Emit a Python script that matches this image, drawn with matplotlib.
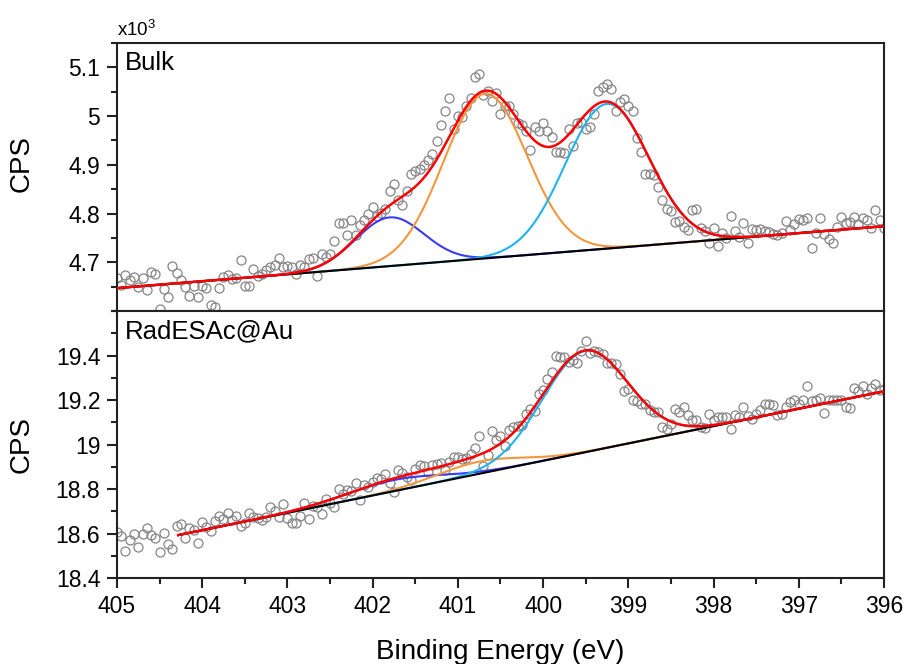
import numpy as np
import matplotlib
matplotlib.use("Agg")
import matplotlib.pyplot as plt
from matplotlib.ticker import MultipleLocator, FormatStrFormatter

plt.rcParams["font.family"] = ["Liberation Sans", "DejaVu Sans"]
plt.rcParams["mathtext.default"] = "regular"

# ---- data (CPS x10^3, sampled every 0.05 eV from 405 eV down to 396 eV) ----
bulk_cps = [
    4.667, 4.653, 4.674, 4.663, 4.669, 4.650, 4.667, 4.644, 4.680, 4.676,
    4.605, 4.646, 4.629, 4.692, 4.677, 4.663, 4.650, 4.631, 4.651, 4.629,
    4.651, 4.648, 4.612, 4.609, 4.648, 4.670, 4.673, 4.666, 4.667, 4.704,
    4.652, 4.652, 4.687, 4.672, 4.676, 4.685, 4.691, 4.694, 4.708, 4.691,
    4.692, 4.691, 4.675, 4.694, 4.691, 4.706, 4.708, 4.672, 4.718, 4.711,
    4.718, 4.744, 4.781, 4.781, 4.755, 4.787, 4.755, 4.776, 4.786, 4.800,
    4.813, 4.794, 4.801, 4.810, 4.847, 4.860, 4.827,
    4.817, 4.846, 4.882, 4.887, 4.892, 4.899, 4.909, 4.922, 4.948, 4.982,
    5.011, 5.037, 4.974, 5.001, 4.999, 5.021, 5.038, 5.081, 5.087, 5.044,
    5.052, 5.031, 5.047, 5.004, 5.021, 5.021, 5.004, 4.985, 4.982, 4.969,
    4.931, 4.978, 4.969, 4.985, 4.969, 4.957, 4.926, 4.926, 4.924, 4.974,
    4.939, 4.985, 4.988, 4.974, 4.977, 5.004, 5.051, 5.059, 5.066, 5.055,
    5.011, 5.028, 5.035, 5.021, 5.011, 4.955, 4.926, 4.882, 4.882, 4.880,
    4.854, 4.827, 4.809, 4.805, 4.783,
    4.784, 4.772, 4.767, 4.807, 4.809, 4.771, 4.764, 4.740, 4.771, 4.733,
    4.760, 4.749, 4.794, 4.764, 4.752, 4.781, 4.740, 4.769, 4.766, 4.769,
    4.764, 4.762, 4.759, 4.755, 4.760, 4.784, 4.766, 4.778, 4.788, 4.786,
    4.790, 4.730, 4.760, 4.791, 4.759, 4.747, 4.740, 4.772, 4.793, 4.781,
    4.783, 4.793, 4.778, 4.790, 4.786, 4.771, 4.808, 4.787, 4.770,
]

rad_cps = [
    18.608, 18.588, 18.523, 18.573, 18.600, 18.541, 18.600, 18.623, 18.593, 18.582,
    18.518, 18.603, 18.555, 18.529, 18.633, 18.642, 18.582, 18.627, 18.618, 18.558,
    18.653, 18.630, 18.612, 18.657, 18.678, 18.663, 18.690, 18.660, 18.678, 18.633,
    18.648, 18.690, 18.675, 18.668, 18.660, 18.675, 18.720, 18.702, 18.675, 18.732,
    18.668, 18.648, 18.648, 18.678, 18.735, 18.663, 18.723, 18.720, 18.687, 18.757,
    18.738, 18.720, 18.798, 18.777, 18.795, 18.792, 18.825, 18.750, 18.817, 18.810,
    18.832, 18.851, 18.847, 18.869, 18.825, 18.787, 18.887,
    18.872, 18.854, 18.839, 18.892, 18.907, 18.902, 18.877, 18.907, 18.914, 18.917,
    18.887, 18.922, 18.944, 18.944, 18.937, 18.941, 18.959, 18.986, 19.037, 18.904,
    18.952, 19.061, 19.019, 19.037, 18.992, 19.064, 19.079, 19.082, 19.086, 19.138,
    19.161, 19.149, 19.225, 19.243, 19.295, 19.325, 19.396, 19.393, 19.393, 19.370,
    19.381, 19.366, 19.422, 19.464, 19.410, 19.419, 19.415, 19.407, 19.366, 19.366,
    19.363, 19.318, 19.240, 19.251, 19.201, 19.195, 19.180, 19.180, 19.153, 19.146,
    19.146, 19.079, 19.071, 19.094, 19.161, 19.146,
    19.168, 19.131, 19.109, 19.112, 19.079, 19.076, 19.138, 19.112, 19.123, 19.123,
    19.123, 19.070, 19.131, 19.123, 19.168, 19.126, 19.116, 19.138, 19.153, 19.180,
    19.183, 19.176, 19.131, 19.138, 19.168, 19.191, 19.201, 19.183, 19.201, 19.265,
    19.195, 19.198, 19.210, 19.143, 19.198, 19.198, 19.198, 19.201, 19.168, 19.165,
    19.255, 19.240, 19.265, 19.228, 19.255, 19.270, 19.243, 19.250,
]

# fitted peaks: centre (eV), height above background, gaussian sigma (eV)
bulk_bkg_energy = [405.0, 396.0]
bulk_bkg = [4.647, 4.774]
bulk_centres = [401.80, 400.68, 399.25]
bulk_heights = [0.100, 0.338, 0.297]
bulk_sigmas = [0.40, 0.49, 0.49]

rad_bkg_energy = [404.28, 396.0]
rad_bkg = [18.593, 19.239]
rad_centres = [401.75, 400.75, 399.51]
rad_heights = [0.050, 0.055, 0.455]
rad_sigmas = [0.55, 0.50, 0.50]

peak_colors = ["#3a3af2", "#f4973c", "#22b2ef"]


def gauss(e, c, h, s):
    return h * np.exp(-0.5 * ((e - c) / s) ** 2)


def panneau(ax, cps, bkg_e, bkg, centres, heights, sigmas, titre):
    energy = 405 - 0.05 * np.arange(len(cps))
    ax.plot(energy, cps, "o", mfc="none", mec="#858585", mew=0.9, ms=6.5, zorder=2)

    e = np.linspace(bkg_e[0], bkg_e[1], 600)
    base = np.interp(e, bkg_e[::-1], bkg[::-1])
    total = base.copy()
    for c, h, s, col in zip(centres, heights, sigmas, peak_colors):
        comp = gauss(e, c, h, s)
        total += comp
        ax.plot(e, base + comp, color=col, lw=1.5, zorder=3)
    ax.plot(e, base, color="black", lw=1.5, zorder=4)
    ax.plot(e, total, color="#ff0000", lw=1.8, zorder=5)

    ax.text(0.010, 0.97, titre, transform=ax.transAxes, ha="left", va="top", fontsize=18.5)
    ax.set_ylabel("CPS", fontsize=20)
    for sp in ax.spines.values():
        sp.set_linewidth(1.5)
        sp.set_color("#222222")
    ax.tick_params(axis="both", which="major", direction="out", length=7, width=1.5,
                   labelsize=16.5, color="#222222", pad=5)
    ax.tick_params(axis="both", which="minor", direction="out", length=4, width=1.5,
                   color="#222222")
    ax.yaxis.set_major_formatter(FormatStrFormatter("%g"))


fig = plt.figure(figsize=(9.06, 6.64), dpi=100)
ax1 = fig.add_axes([0.1291, 0.5316, 0.8466, 0.4036])
ax2 = fig.add_axes([0.1291, 0.1295, 0.8466, 0.4021], sharex=ax1)

panneau(ax1, bulk_cps, bulk_bkg_energy, bulk_bkg, bulk_centres, bulk_heights, bulk_sigmas, "Bulk")
panneau(ax2, rad_cps, rad_bkg_energy, rad_bkg, rad_centres, rad_heights, rad_sigmas, "RadESAc@Au")

ax1.set_xlim(405, 396)
ax1.xaxis.set_major_locator(MultipleLocator(1))
ax1.xaxis.set_minor_locator(MultipleLocator(0.5))
ax1.xaxis.set_major_formatter(FormatStrFormatter("%d"))

ax1.set_ylim(4.6, 5.15)
ax1.yaxis.set_major_locator(MultipleLocator(0.1))
ax1.yaxis.set_minor_locator(MultipleLocator(0.05))
ax1.set_yticks([4.7, 4.8, 4.9, 5.0, 5.1])
ax1.tick_params(axis="x", which="both", length=0, labelbottom=False)
ax1.yaxis.set_label_coords(-0.108, 0.55)
ax1.text(0.0, 1.012, r"x10$^3$", transform=ax1.transAxes, ha="left", va="bottom", fontsize=13.5)

ax2.set_ylim(18.4, 19.6)
ax2.yaxis.set_major_locator(MultipleLocator(0.2))
ax2.yaxis.set_minor_locator(MultipleLocator(0.1))
ax2.set_yticks([18.4, 18.6, 18.8, 19.0, 19.2, 19.4])
ax2.yaxis.set_label_coords(-0.108, 0.5)
ax2.set_xlabel("Binding Energy (eV)", fontsize=20, labelpad=15)

fig.savefig("out.png", dpi=100)
